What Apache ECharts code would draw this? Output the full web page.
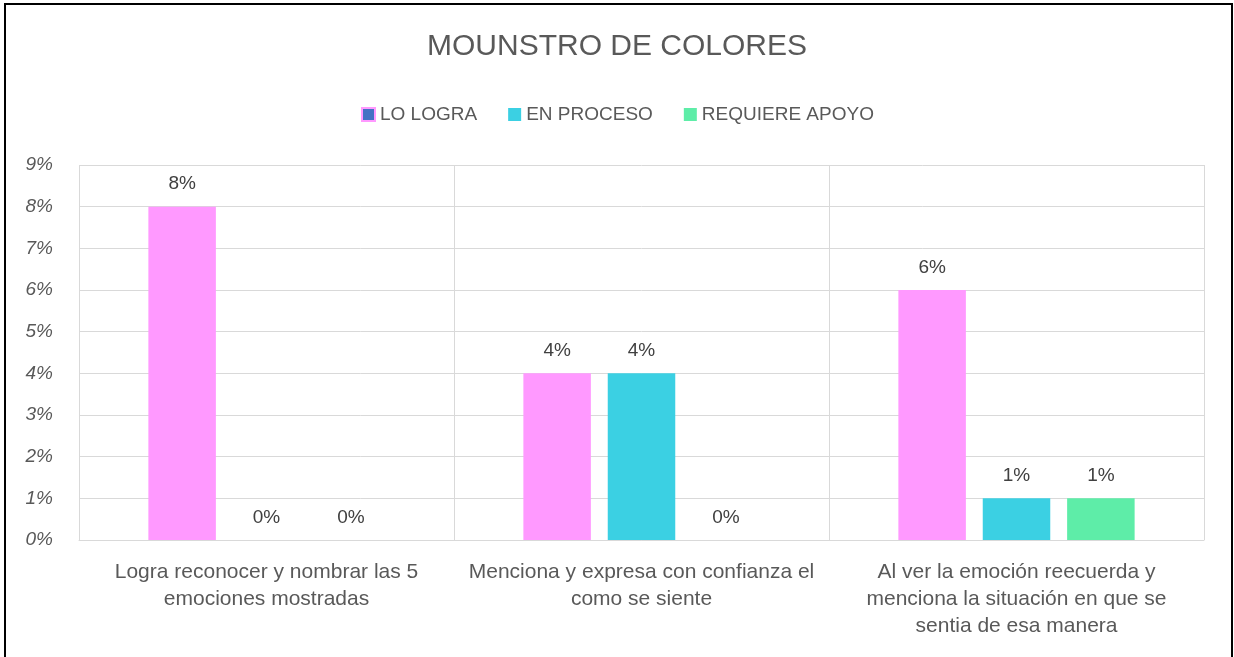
<!DOCTYPE html>
<html>
<head>
<meta charset="utf-8">
<script src="https://cdn.jsdelivr.net/npm/echarts@6/dist/echarts.min.js"></script>
<style>
    html, body { margin: 0; padding: 0; background: #fff; }
    #frame {
        position: absolute; left: 4px; top: 3px; width: 1229px; height: 660px;
        border: 2px solid #000; border-bottom: none; box-sizing: border-box;
    }
    #chart { position: absolute; left: 0; top: 0; width: 1234px; height: 657px; }
</style>
</head>
<body>
<div id="frame"></div>
<div id="chart"></div>
<script>
// 数据
var categories = [
    'Logra reconocer y nombrar las 5\nemociones mostradas',
    'Menciona y expresa con confianza el\ncomo se siente',
    'Al ver la emoción reecuerda y\nmenciona la situación en que se\nsentia de esa manera'
];
var seriesNames = ['LO LOGRA', 'EN PROCESO', 'REQUIERE APOYO'];
var loLogra = [0.08, 0.04, 0.06];
var enProceso = [0, 0.04, 0.01];
var requiereApoyo = [0, 0, 0.01];
var colors = ['#FF99FF', '#3BD0E3', '#5EEDA8'];

var font = '"Liberation Sans", sans-serif';
var pct = function (v) { return Math.round(v * 100) + '%'; };

function makeSeries(name, data, color) {
    return {
        name: name,
        type: 'bar',
        data: data,
        barGap: '25%',
        barCategoryGap: '37%',
        itemStyle: { color: color },
        label: {
            show: true,
            position: 'top',
            distance: 13,
            color: '#404040',
            fontSize: 19,
            fontFamily: font,
            formatter: function (p) { return pct(p.value); }
        }
    };
}

var myChart = echarts.init(document.getElementById('chart'));
var option = {
    animation: false,
    title: {
        text: 'MOUNSTRO DE COLORES',
        left: 'center',
        top: 27,
        textStyle: { color: '#595959', fontSize: 30, fontWeight: 'normal', fontFamily: font }
    },
    legend: {
        top: 100,
        left: 356,
        itemWidth: 13,
        itemHeight: 13,
        itemGap: 31,
        textStyle: { color: '#595959', fontSize: 19, fontFamily: font },
        data: [
            { name: 'LO LOGRA', icon: 'rect', itemStyle: { color: '#4472C4', borderColor: '#FF99FF', borderWidth: 2 } },
            { name: 'EN PROCESO', icon: 'rect' },
            { name: 'REQUIERE APOYO', icon: 'rect' }
        ]
    },
    grid: { left: 79, right: 30, top: 165, bottom: 117 },
    xAxis: {
        type: 'category',
        data: categories,
        axisLine: { lineStyle: { color: '#D9D9D9', width: 1 } },
        axisTick: { show: false },
        splitLine: { show: true, lineStyle: { color: '#D9D9D9', width: 1 } },
        axisLabel: {
            color: '#595959',
            fontSize: 21,
            fontFamily: font,
            lineHeight: 27,
            margin: 19,
            interval: 0
        }
    },
    yAxis: {
        type: 'value',
        min: 0,
        max: 0.09,
        interval: 0.01,
        axisLine: { show: false },
        axisTick: { show: false },
        splitLine: { lineStyle: { color: '#D9D9D9', width: 1 } },
        axisLabel: {
            color: '#595959',
            fontSize: 19,
            fontStyle: 'italic',
            fontFamily: font,
            margin: 26,
            formatter: pct
        }
    },
    series: [
        makeSeries(seriesNames[0], loLogra, colors[0]),
        makeSeries(seriesNames[1], enProceso, colors[1]),
        makeSeries(seriesNames[2], requiereApoyo, colors[2])
    ]
};
myChart.setOption(option);
</script>
</body>
</html>
